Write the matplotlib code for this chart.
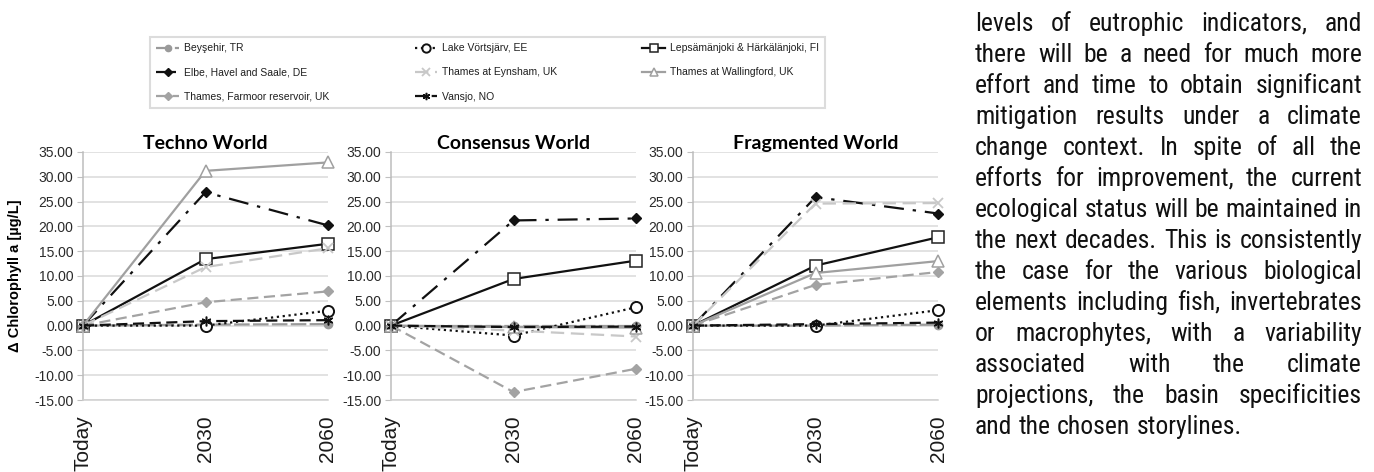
import numpy as np
import matplotlib
matplotlib.use('Agg')
import matplotlib.pyplot as plt
from matplotlib import font_manager

# categories on the x axis
periods = ['Today', '2030', '2060']
worlds = ['Techno World', 'Consensus World', 'Fragmented World']

# change in chlorophyll a [ug/L] per site, one list per world (Techno, Consensus, Fragmented)
beysehir = [[0, 0.2, 0.3], [0, 0.0, 0.0], [0, 0.0, 0.2]]
vortsjarv = [[0, 0.0, 3.0], [0, -2.0, 3.7], [0, 0.0, 3.1]]
lepsamanjoki = [[0, 13.4, 16.5], [0, 9.4, 13.1], [0, 12.1, 17.8]]
elbe = [[0, 26.9, 20.2], [0, 21.2, 21.6], [0, 25.9, 22.6]]
eynsham = [[0, 11.8, 15.6], [0, -1.0, -2.2], [0, 24.6, 24.7]]
wallingford = [[0, 31.2, 32.9], [0, -0.3, -0.4], [0, 10.6, 13.0]]
farmoor = [[0, 4.7, 6.9], [0, -13.4, -8.7], [0, 8.2, 10.8]]
vansjo = [[0, 0.9, 1.1], [0, -0.3, -0.2], [0, 0.3, 0.6]]

series = [
    ('Beyşehir, TR', beysehir, dict(color='#9a9a9a', ls=(0, (7, 1.5)), marker='o', ms=6, mfc='#9a9a9a', mec='#9a9a9a')),
    ('Lake Vörtsjärv, EE', vortsjarv, dict(color='#111111', ls=':', marker='o', ms=8, mfc='white', mec='#111111', mew=1.4)),
    ('Lepsämänjoki & Härkälänjoki, FI', lepsamanjoki, dict(color='#111111', ls='-', marker='s', ms=8, mfc='white', mec='#222222', mew=1.1)),
    ('Elbe, Havel and Saale, DE', elbe, dict(color='#111111', ls=(0, (9, 4, 1.5, 4)), marker='D', ms=5.5, mfc='#111111', mec='#111111')),
    ('Thames at Eynsham, UK', eynsham, dict(color='#c8c8c8', ls=(0, (6, 3)), marker='x', ms=7, mec='#c8c8c8', mew=1.3)),
    ('Thames at Wallingford, UK', wallingford, dict(color='#a0a0a0', ls='-', marker='^', ms=8, mfc='white', mec='#a0a0a0', mew=1.1)),
    ('Thames, Farmoor reservoir, UK', farmoor, dict(color='#a3a3a3', ls=(0, (5, 2.5)), marker='D', ms=5.5, mfc='#a3a3a3', mec='#a3a3a3')),
    ('Vansjo, NO', vansjo, dict(color='#111111', ls=(0, (5, 2.5)), marker=(6, 2, 0), ms=7, mec='#111111', mew=1.1)),
]

yticks = np.arange(-15, 36, 5)

fig = plt.figure(figsize=(13.74, 4.72), dpi=100)
plt.rcParams['font.family'] = ['Liberation Sans', 'DejaVu Sans']

lefts = [83, 391, 693]
handles = []
for k, name in enumerate(worlds):
    ax = fig.add_axes([lefts[k] / 1374, (472 - 400) / 472, 245 / 1374, 248 / 472])
    x = np.arange(len(periods))
    for label, vals, st in series:
        ln, = ax.plot(x, vals[k], lw=1.6, label=label, clip_on=False, **st)
        if k == 0:
            handles.append(ln)
    ax.set_xlim(0, 2)
    ax.set_ylim(-15, 35)
    ax.set_yticks(yticks)
    ax.set_yticklabels(['%.2f' % v for v in yticks], fontsize=10, color='#2a2a2a')
    ax.set_xticks(x)
    ax.set_xticklabels(periods, rotation=90, fontsize=15, color='#1a1a1a')
    ax.tick_params(axis='x', length=0, pad=11)
    ax.tick_params(axis='y', length=4, color='#c0c0c0', pad=3)
    ax.grid(axis='y', color='#dadada', lw=1.1)
    ax.set_axisbelow(True)
    for s in ['top', 'right']:
        ax.spines[s].set_visible(False)
    ax.spines['left'].set_color('#bdbdbd')
    ax.spines['bottom'].set_color('#d0d0d0')
    ax.spines['left'].set_linewidth(1.1)
    ax.spines['bottom'].set_linewidth(1.1)
    ax.set_title(name, fontsize=14, fontweight='bold', family=['Lato', 'DejaVu Sans'], pad=1)
    if k == 0:
        ax.set_ylabel('Δ Chlorophyll a [µg/L]', fontsize=10.5, fontweight='bold', labelpad=9)

# legend ordered so rows read across like the original key
order = [0, 3, 6, 1, 4, 7, 2, 5]
leg = fig.legend([handles[i] for i in order], [series[i][0] for i in order],
                 ncol=3, mode='expand', loc='lower left',
                 bbox_to_anchor=(145 / 1374, (472 - 113) / 472, 685 / 1374, 75 / 472),
                 fontsize=7.5, handlelength=2.2, handletextpad=0.4, labelspacing=1.35,
                 borderpad=0.6, frameon=True, fancybox=False, markerscale=0.75)
leg.get_frame().set_edgecolor('#d4d4d4')
leg.get_frame().set_linewidth(1.5)
for t in leg.get_texts():
    t.set_color('#1f1f1f')

# body text column on the right, fully justified
names = {f.name for f in font_manager.fontManager.ttflist}
body_family = 'Roboto'
for cand in ['Liberation Sans Narrow', 'Roboto Condensed', 'Roboto']:
    if cand in names:
        body_family = cand
        break

lines = [
    'levels of eutrophic indicators, and',
    'there will be a need for much more',
    'effort and time to obtain significant',
    'mitigation results under a climate',
    'change context. In spite of all the',
    'efforts for improvement, the current',
    'ecological status will be maintained in',
    'the next decades. This is consistently',
    'the case for the various biological',
    'elements including fish, invertebrates',
    'or macrophytes, with a variability',
    'associated with the climate',
    'projections, the basin specificities',
    'and the chosen storylines.',
]

renderer = fig.canvas.get_renderer()
x_left, x_right = 975, 1362

# size the font so the tightest line just fills the column
probe = fig.text(0, 0, 'ecological status will be maintained in', fontsize=20, family=body_family)
body_size = 20 * (x_right - x_left) / probe.get_window_extent(renderer).width * 0.995
probe.remove()

for i, line in enumerate(lines):
    y = 24 + 31 * i
    words = line.split()
    objs = [fig.text(0, 1 - y / 472, w, fontsize=body_size, family=body_family,
                     va='center', ha='left', color='#111111') for w in words]
    widths = [o.get_window_extent(renderer).width for o in objs]
    if i == len(lines) - 1:
        gap = body_size * 100 / 72 * 0.25
    else:
        gap = (x_right - x_left - sum(widths)) / (len(words) - 1)
    pos = x_left
    for o, w in zip(objs, widths):
        o.set_x(pos / 1374)
        pos += w + gap

fig.savefig('out.png', dpi=100)
